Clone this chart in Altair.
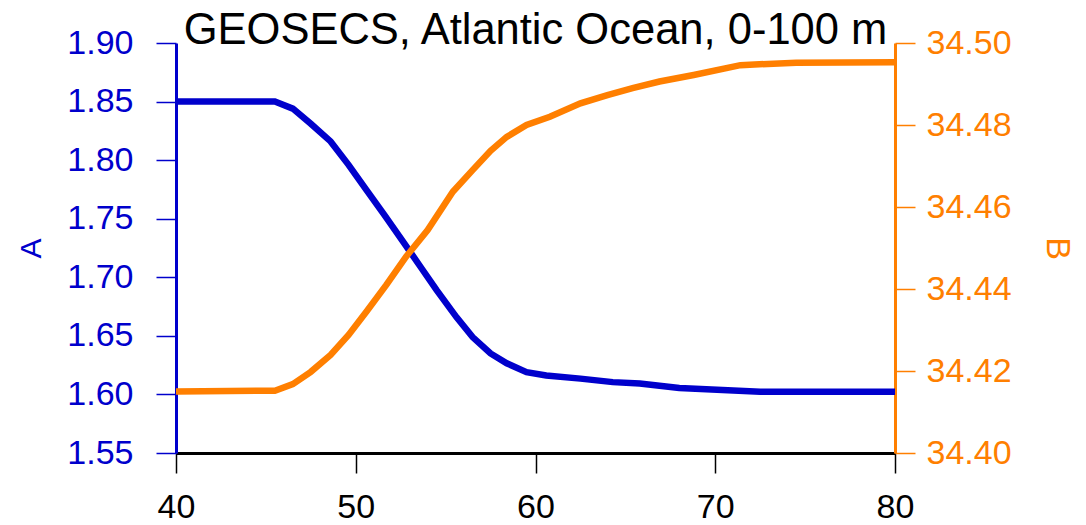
import altair as alt
import pandas as pd

# Latitude positions and values
lat_a = [40, 45.5, 46.5, 47.5, 48.6, 49.6, 50.6, 51.6, 52.7, 53.6, 54.5, 55.6,
         56.5, 57.5, 58.4, 59.5, 60.6, 62.5, 64.3, 65.8, 68.0, 72.5, 80]
a_vals = [1.850, 1.850, 1.844, 1.831, 1.816, 1.796, 1.7745, 1.753, 1.729, 1.709,
          1.689, 1.666, 1.649, 1.635, 1.6266, 1.619, 1.6162, 1.6135, 1.6105,
          1.6093, 1.6055, 1.6023, 1.6023]

lat_b = [40, 45.5, 46.5, 47.5, 48.6, 49.6, 50.6, 51.7, 52.8, 54.0, 55.4, 56.5,
         57.5, 58.4, 59.5, 60.8, 62.5, 64.0, 65.4, 66.9, 68.8, 71.4, 74.5, 80]
b_vals = [34.4150, 34.4152, 34.4168, 34.4198, 34.4239, 34.4288, 34.4345, 34.4410,
          34.4479, 34.4544, 34.4637, 34.4690, 34.4737, 34.4771, 34.4800, 34.4820,
          34.4853, 34.4873, 34.4890, 34.4906, 34.4922, 34.4946, 34.4952, 34.4953]

x_ticks = [40, 50, 60, 70, 80]
a_ticks = [1.55, 1.60, 1.65, 1.70, 1.75, 1.80, 1.85, 1.90]
b_ticks = [34.40, 34.42, 34.44, 34.46, 34.48, 34.50]

BLUE = "#0000CC"
ORANGE = "#FF7F00"
FONT = "Liberation Sans"

df_a = pd.DataFrame({"lat": lat_a, "A": a_vals})
df_b = pd.DataFrame({"lat": lat_b, "B": b_vals})

x_scale = alt.Scale(domain=[40, 80], nice=False, zero=False)
x_axis = alt.Axis(values=x_ticks, title=None, grid=False, orient="bottom",
                  domainColor="black", domainWidth=3,
                  tickColor="black", tickWidth=1.5, tickSize=20,
                  labelFont=FONT, labelFontSize=34, labelColor="black",
                  labelPadding=17, labelFlush=False)

line_a = alt.Chart(df_a).mark_line(color=BLUE, strokeWidth=6.5).encode(
    x=alt.X("lat:Q", scale=x_scale, axis=x_axis),
    y=alt.Y("A:Q", scale=alt.Scale(domain=[1.55, 1.90], nice=False, zero=False),
            axis=alt.Axis(orient="left", values=a_ticks, format=".2f", title="A",
                          grid=False, domainColor=BLUE, domainWidth=3,
                          tickColor=BLUE, tickWidth=1.5, tickSize=20,
                          labelFont=FONT, labelFontSize=34, labelColor=BLUE,
                          labelPadding=23, labelFlush=False,
                          titleFont=FONT, titleFontSize=30, titleColor=BLUE,
                          titleFontWeight="normal", titlePadding=20)),
)

line_b = alt.Chart(df_b).mark_line(color=ORANGE, strokeWidth=6.5).encode(
    x=alt.X("lat:Q", scale=x_scale, axis=x_axis),
    y=alt.Y("B:Q", scale=alt.Scale(domain=[34.40, 34.50], nice=False, zero=False),
            axis=alt.Axis(orient="right", values=b_ticks, format=".2f", title="B",
                          grid=False, domainColor=ORANGE, domainWidth=3,
                          tickColor=ORANGE, tickWidth=1.5, tickSize=20,
                          labelFont=FONT, labelFontSize=34, labelColor=ORANGE,
                          labelPadding=11, labelFlush=False,
                          titleFont=FONT, titleFontSize=34, titleColor=ORANGE,
                          titleFontWeight="normal", titlePadding=28)),
)

chart = alt.layer(line_a, line_b).resolve_scale(y="independent").properties(
    width=719,
    height=410,
    autosize=alt.AutoSizeParams(type="none"),
    padding={"left": 168, "top": 35, "right": 183, "bottom": 70},
    title=alt.TitleParams(
        text="GEOSECS, Atlantic Ocean, 0-100 m",
        font=FONT, fontSize=43.5, fontWeight="normal", color="black",
        anchor="middle", offset=-27,
    ),
).configure_view(stroke=None)

chart.save("out.html", embed_options={"renderer": "svg", "actions": False})
